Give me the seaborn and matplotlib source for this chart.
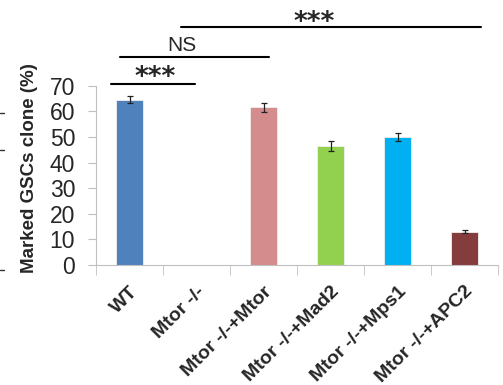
import numpy as np
import pandas as pd
import matplotlib
matplotlib.use("Agg")
import matplotlib.pyplot as plt
import seaborn as sns
from matplotlib.lines import Line2D

# data
groups = ["WT", "Mtor -/-", "Mtor -/-+Mtor", "Mtor -/-+Mad2", "Mtor -/-+Mps1", "Mtor -/-+APC2"]
values = [64.5, 0.0, 61.5, 46.5, 50.0, 13.0]
errors = [1.4, 0.0, 1.7, 2.1, 1.5, 0.6]
bar_colors = ["#4F81BD", "#4F81BD", "#D48C8C", "#92D050", "#00B0F0", "#843C3C"]

# significance brackets: (x start, x end, y of line, label x, label y, label)
brackets = [(-0.28, 0.98, 70.6, 0.38, 70.4, "***"),
            (-0.14, 2.08, 81.3, 0.78, 83.6, "NS"),
            (0.77, 5.25, 93.0, 2.75, 91.6, "***")]

sns.set_style("white")
plt.rcParams["font.family"] = ["Liberation Sans", "DejaVu Sans"]

df = pd.DataFrame({"group": groups, "value": values, "err": errors})

fig = plt.figure(figsize=(5.03, 3.85), dpi=100)
ax = fig.add_axes([0.1909, 0.3117, 0.7992, 0.4657])

sns.barplot(data=df, x="group", y="value", hue="group", palette=bar_colors,
            width=0.4, legend=False, ax=ax, saturation=1, edgecolor="#f0f0f0", linewidth=0.6)
has_err = df[df["err"] > 0]
ax.errorbar(has_err.index.to_numpy(), has_err["value"], yerr=has_err["err"], fmt="none",
            ecolor="#222222", elinewidth=0.9, capsize=2, capthick=0.9)

ax.set_xlim(-0.5, 5.5)
ax.set_ylim(0, 70)
ax.set_yticks(range(0, 71, 10))
ax.tick_params(axis="y", labelsize=16.5, length=6, color="#bfbfbf", direction="out", left=True, pad=9)
ax.set_xticks(np.arange(len(groups)))
ax.set_xticklabels(groups, rotation=45, ha="right", rotation_mode="anchor",
                   fontsize=14, fontweight="bold")
ax.tick_params(axis="x", length=0, pad=13)
ax.set_xticks(np.arange(-0.5, 6.0, 1.0), minor=True)
ax.tick_params(axis="x", which="minor", length=7, color="#bfbfbf", direction="out", bottom=True)

ax.set_xlabel("")
ax.set_ylabel("Marked GSCs clone (%)", fontsize=13.5, fontweight="bold")
ax.yaxis.set_label_coords(-0.144, 0.54)

for side in ["top", "right"]:
    ax.spines[side].set_visible(False)
for side in ["left", "bottom"]:
    ax.spines[side].set_color("#bfbfbf")
    ax.spines[side].set_linewidth(0.8)

for x0, x1, y, tx, ty, label in brackets:
    ax.plot([x0, x1], [y, y], color="black", lw=1.5, clip_on=False)
    if label == "***":
        ax.text(tx, ty, label, ha="center", va="baseline", fontsize=19, fontweight="bold",
                family="DejaVu Sans", clip_on=False)
    else:
        ax.text(tx, ty, label, ha="center", va="baseline", fontsize=15, clip_on=False)

# stray tick marks of a neighbouring panel at the left edge
for yf in [1 - 113 / 385, 1 - 150 / 385, 1 - 270 / 385]:
    fig.add_artist(Line2D([0, 0.008], [yf, yf], color="#333333", lw=1))

fig.savefig("out.png", dpi=100)
